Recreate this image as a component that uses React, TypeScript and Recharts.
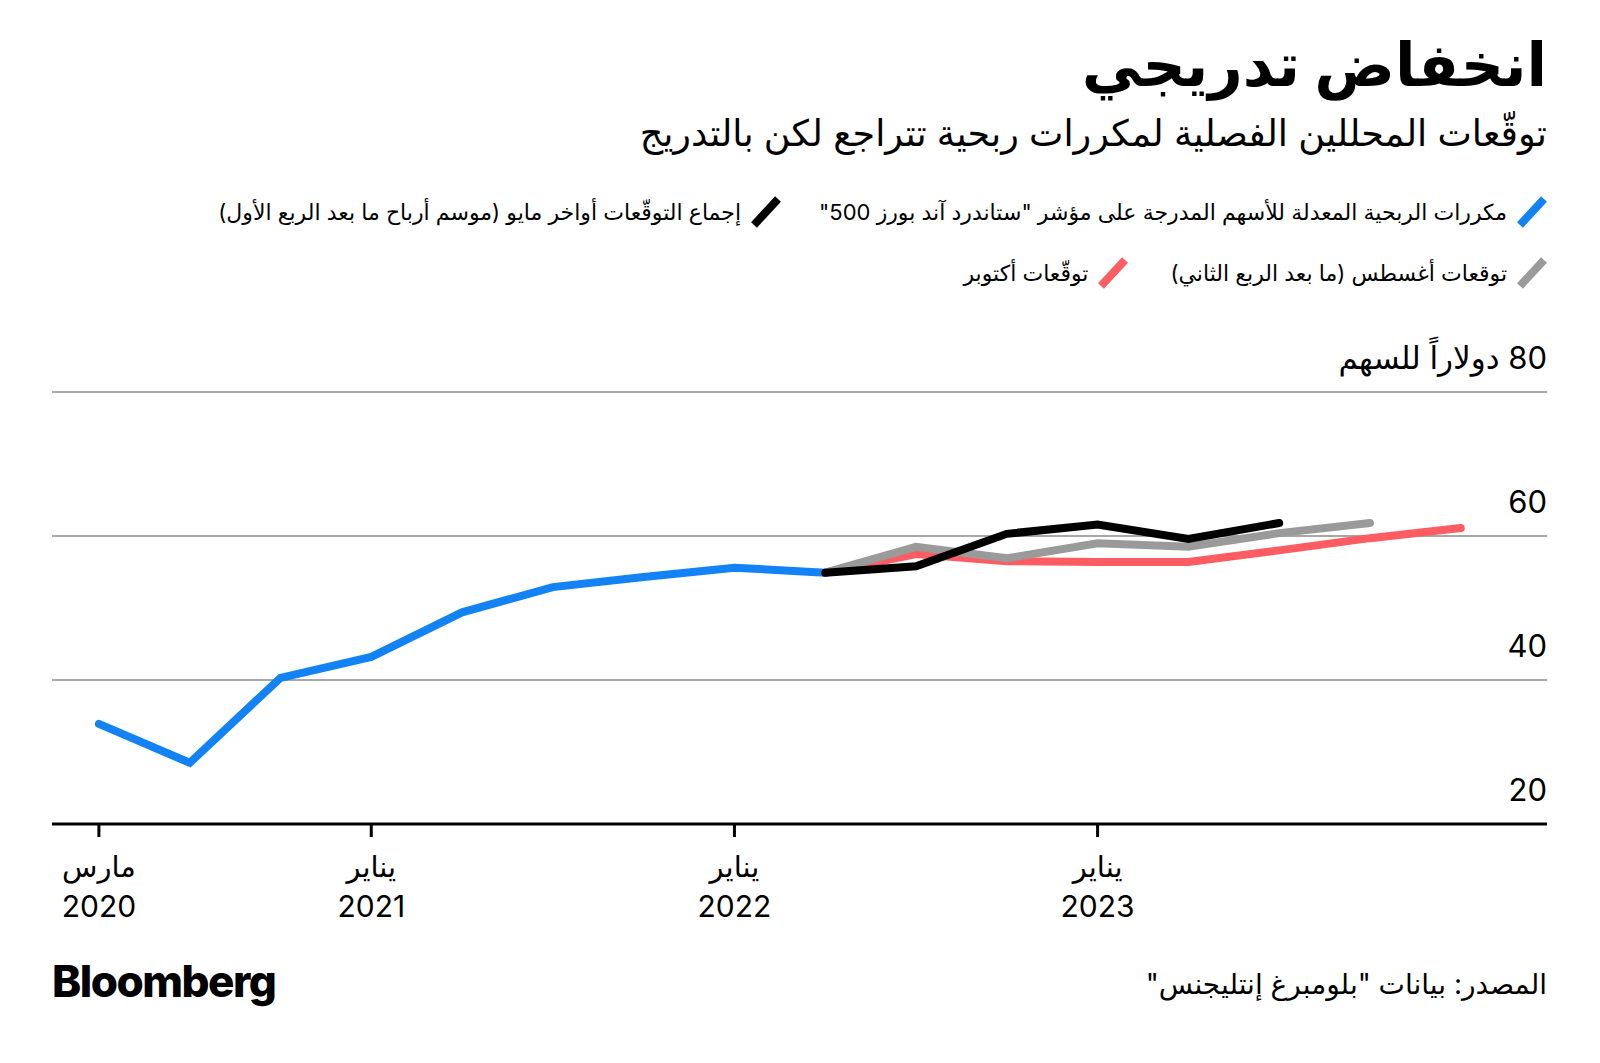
import { LineChart, Line, XAxis, YAxis, CartesianGrid } from "recharts";

const QUARTERS = [
  "Q1 2020", "Q2 2020", "Q3 2020", "Q4 2020",
  "Q1 2021", "Q2 2021", "Q3 2021", "Q4 2021",
  "Q1 2022", "Q2 2022", "Q3 2022", "Q4 2022",
  "Q1 2023", "Q2 2023", "Q3 2023", "Q4 2023",
];

// S&P 500 adjusted P/E, Q1 2020 .. Q1 2022
const ACTUAL = [33.9, 28.5, 40.3, 43.2, 49.4, 52.9, 54.3, 55.6, 54.9];
// forecasts, all starting at Q1 2022
const MAY = [54.9, 55.8, 60.3, 61.6, 59.6, 61.8];
const AUG = [54.9, 58.5, 56.9, 59.0, 58.5, 60.4, 61.8];
const OCT = [54.9, 57.5, 56.5, 56.4, 56.4, 58.0, 59.7, 61.1];

const X_TICKS = [3, 12, 24, 36];
const X_TICK_LABELS: Record<number, [string, string]> = {
  3: ["مارس", "2020"],
  12: ["يناير", "2021"],
  24: ["يناير", "2022"],
  36: ["يناير", "2023"],
};
const Y_TICKS = [20, 40, 60, 80];

const SERIES = [
  { key: "actual", label: 'مكررات الربحية المعدلة للأسهم المدرجة على مؤشر "ستاندرد آند بورز 500"', color: "#1282f5" },
  { key: "may", label: "إجماع التوقّعات أواخر مايو (موسم أرباح ما بعد الربع الأول)", color: "#000000" },
  { key: "aug", label: "توقعات أغسطس (ما بعد الربع الثاني)", color: "#9a9a9a" },
  { key: "oct", label: "توقّعات أكتوبر", color: "#fd5c63" },
];

const FONT = "Inter, 'DejaVu Sans', sans-serif";

// "Q3 2021" -> months since Jan 2020 at quarter end
function monthOf(q: string) {
  const [qq, yy] = q.split(" ");
  return (Number(yy) - 2020) * 12 + Number(qq.slice(1)) * 3;
}

function toPoints(start: number, values: number[]) {
  return values.map((v, i) => ({ m: monthOf(QUARTERS[start + i]), v }));
}

const actualData = toPoints(0, ACTUAL);
const mayData = toPoints(8, MAY);
const augData = toPoints(8, AUG);
const octData = toPoints(8, OCT);

function XTick(props: any) {
  const { x, y, payload } = props;
  const lines = X_TICK_LABELS[payload.value] || ["", ""];
  return (
    <g>
      <text x={x} y={y + 40} textAnchor="middle" fontSize={29} fill="#000" fontFamily={FONT}>
        {lines[0]}
      </text>
      <text x={x} y={y + 80} textAnchor="middle" fontSize={30} fill="#000" fontFamily={FONT}>
        {lines[1]}
      </text>
    </g>
  );
}

function YTick(props: any) {
  const { y, payload } = props;
  const txt = payload.value === 80 ? "دولاراً للسهم\u200E 80" : String(payload.value);
  return (
    <text x={1547} y={y - 23} textAnchor="end" fontSize={31} fill="#000" fontFamily={FONT}>
      {txt}
    </text>
  );
}

function Swatch({ color }: { color: string }) {
  return (
    <svg width={34} height={34} style={{ flex: "none" }}>
      <line x1={5} y1={30} x2={29} y2={4} stroke={color} strokeWidth={8} />
    </svg>
  );
}

function LegendItem({ color, label }: { color: string; label: string }) {
  return (
    <div style={{ display: "flex", alignItems: "center", gap: 8 }}>
      <Swatch color={color} />
      <span>{label}</span>
    </div>
  );
}

export default function App() {
  return (
    <div
      style={{
        position: "absolute",
        left: 0,
        top: 0,
        width: 1600,
        height: 1063,
        background: "#fff",
        overflow: "hidden",
        fontFamily: FONT,
        color: "#000",
      }}
    >
      <div
        dir="rtl"
        style={{ position: "absolute", right: 53, top: 28, fontSize: 60, fontWeight: 700, lineHeight: 1.2 }}
      >
        انخفاض تدريجي
      </div>
      <div dir="rtl" style={{ position: "absolute", right: 53, top: 110, fontSize: 36.5, lineHeight: 1.3 }}>
        توقّعات المحللين الفصلية لمكررات ربحية تتراجع لكن بالتدريج
      </div>

      <div
        dir="rtl"
        style={{
          position: "absolute",
          right: 51,
          top: 195,
          fontSize: 22,
          display: "flex",
          flexDirection: "column",
          gap: 27,
        }}
      >
        <div style={{ display: "flex", gap: 36 }}>
          <LegendItem color={SERIES[0].color} label={SERIES[0].label} />
          <LegendItem color={SERIES[1].color} label={SERIES[1].label} />
        </div>
        <div style={{ display: "flex", gap: 40 }}>
          <LegendItem color={SERIES[2].color} label={SERIES[2].label} />
          <LegendItem color={SERIES[3].color} label={SERIES[3].label} />
        </div>
      </div>

      <div style={{ position: "absolute", left: 0, top: 0 }}>
        <LineChart
          width={1600}
          height={1063}
          margin={{ top: 392, right: 0, bottom: 139, left: 52 }}
        >
          <CartesianGrid vertical={false} stroke="#8a8a8a" strokeWidth={1.5} />
          <XAxis
            dataKey="m"
            type="number"
            domain={[1.45, 50.85]}
            ticks={X_TICKS}
            height={100}
            axisLine={{ stroke: "#000", strokeWidth: 3 }}
            tickLine={{ stroke: "#000", strokeWidth: 3 }}
            tickSize={13}
            tickMargin={0}
            tick={<XTick />}
            allowDataOverflow
          />
          <YAxis
            type="number"
            orientation="right"
            domain={[20, 80]}
            ticks={Y_TICKS}
            width={53}
            axisLine={false}
            tickLine={false}
            tickSize={0}
            tickMargin={0}
            tick={<YTick />}
            interval={0}
          />
          <Line
            data={actualData}
            dataKey="v"
            stroke={SERIES[0].color}
            strokeWidth={8}
            strokeLinecap="round"
            dot={false}
            type="linear"
            isAnimationActive={false}
          />
          <Line
            data={octData}
            dataKey="v"
            stroke={SERIES[3].color}
            strokeWidth={8}
            strokeLinecap="round"
            dot={false}
            type="linear"
            isAnimationActive={false}
          />
          <Line
            data={augData}
            dataKey="v"
            stroke={SERIES[2].color}
            strokeWidth={8}
            strokeLinecap="round"
            dot={false}
            type="linear"
            isAnimationActive={false}
          />
          <Line
            data={mayData}
            dataKey="v"
            stroke={SERIES[1].color}
            strokeWidth={8}
            strokeLinecap="round"
            dot={false}
            type="linear"
            isAnimationActive={false}
          />
        </LineChart>
      </div>

      <div
        style={{
          position: "absolute",
          left: 52,
          top: 957,
          fontSize: 44,
          fontWeight: 800,
          letterSpacing: -1.5,
          lineHeight: 1.1,
        }}
      >
        Bloomberg
      </div>
      <div dir="rtl" style={{ position: "absolute", right: 53, top: 966, fontSize: 28, lineHeight: 1.3 }}>
        المصدر: بيانات "بلومبرغ إنتليجنس"
      </div>
    </div>
  );
}
